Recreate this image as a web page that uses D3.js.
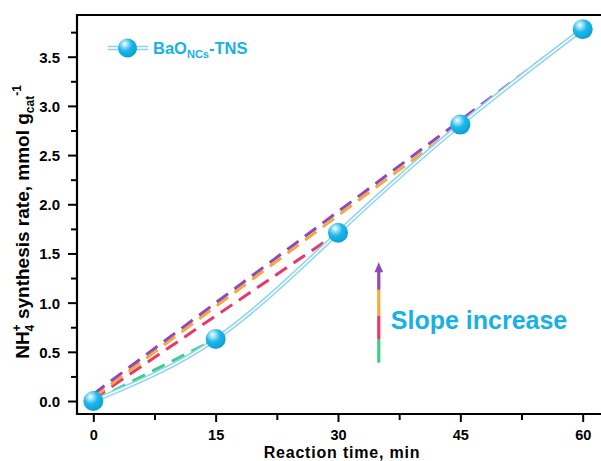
<!DOCTYPE html>
<html>
<head>
<meta charset="utf-8">
<script src="https://cdn.jsdelivr.net/npm/d3@7"></script>
<style>
  html, body { margin: 0; padding: 0; background: #fff; }
  svg { display: block; }
  text { font-family: Arial, "Liberation Sans", sans-serif; font-weight: bold; }
</style>
</head>
<body>
<svg id="chart" width="601" height="461"></svg>
<script>
// ---- data ----
const times = [0, 15, 30, 45, 60];
const rates = [0.0, 0.63, 1.71, 2.81, 3.78];
const seriesName = ["BaO", "NCs", "-TNS"];
const xTicks = [0, 15, 30, 45, 60];
const xMinorTicks = [7.5, 22.5, 37.5, 52.5];
const yTicks = [0.0, 0.5, 1.0, 1.5, 2.0, 2.5, 3.0, 3.5];
const yMinorTicks = [0.25, 0.75, 1.25, 1.75, 2.25, 2.75, 3.25, 3.75];
// slope lines: start value at t=0, end at point index
const slopeNames = ["green", "red", "orange", "purple"];
const slopeStart = [0.0, 0.02, 0.035, 0.07];
const slopeEndIndex = [1, 2, 3, 4];
const slopeColors = ["#3ccf82", "#e8386a", "#f6a83a", "#9148b8"];
// arrow annotation (data units)
const arrowX = 35;
const arrowBreaks = [0.39, 0.63, 0.865, 1.13, 1.41];
const annotation = "Slope increase";

// ---- layout ----
const svg = d3.select("#chart");
const x = d3.scaleLinear().domain([-2, 62]).range([77, 599]);
const y = d3.scaleLinear().domain([-0.132, 3.924]).range([414, 15]);
const cyan = "#17b1e6";

const defs = svg.append("defs");
const grad = defs.append("radialGradient").attr("id", "ball")
  .attr("cx", "38%").attr("cy", "32%").attr("r", "70%").attr("fx", "35%").attr("fy", "28%");
grad.append("stop").attr("offset", "0%").attr("stop-color", "#ffffff");
grad.append("stop").attr("offset", "18%").attr("stop-color", "#a8e6fa");
grad.append("stop").attr("offset", "50%").attr("stop-color", "#1fb8ea");
grad.append("stop").attr("offset", "100%").attr("stop-color", "#0a9fd6");

// ---- slope dashed lines ----
slopeNames.forEach((n, i) => {
  const pts = [[0, slopeStart[i]], [times[slopeEndIndex[i]], rates[slopeEndIndex[i]]]];
  svg.append("path")
    .attr("d", d3.line().x(d => x(d[0])).y(d => y(d[1]))(pts))
    .attr("fill", "none").attr("stroke", slopeColors[i])
    .attr("stroke-width", 3).attr("stroke-dasharray", "14,8");
});

// ---- main curve (double line) ----
const data = times.map((t, i) => [t, rates[i]]);
const curve = d3.line().x(d => x(d[0])).y(d => y(d[1])).curve(d3.curveNatural);
svg.append("path").attr("d", curve(data)).attr("fill", "none")
  .attr("stroke", "#8ad4f1").attr("stroke-width", 4.5);
svg.append("path").attr("d", curve(data)).attr("fill", "none")
  .attr("stroke", "#ffffff").attr("stroke-width", 1.6);

svg.selectAll("circle.pt").data(data).enter().append("circle")
  .attr("class", "pt")
  .attr("cx", d => x(d[0])).attr("cy", d => y(d[1])).attr("r", 10)
  .attr("fill", "url(#ball)");

// ---- axes ----
const gx = svg.append("g").attr("transform", "translate(0,414)")
  .call(d3.axisBottom(x).tickValues(xTicks).tickSize(8).tickFormat(d3.format("d")));
const gxm = svg.append("g").attr("transform", "translate(0,414)")
  .call(d3.axisBottom(x).tickValues(xMinorTicks).tickSize(6).tickFormat(""));
const gy = svg.append("g").attr("transform", "translate(77,0)")
  .call(d3.axisLeft(y).tickValues(yTicks).tickSize(9).tickFormat(d3.format(".1f")));
const gym = svg.append("g").attr("transform", "translate(77,0)")
  .call(d3.axisLeft(y).tickValues(yMinorTicks).tickSize(6).tickFormat(""));
[gx, gxm, gy, gym].forEach(g => {
  g.select(".domain").remove();
  g.selectAll("line").attr("stroke", "#000").attr("stroke-width", 2);
});
gx.selectAll("text").attr("y", 25.5).attr("dy", null)
  .attr("font-size", 14.5).attr("fill", "#000");
gy.selectAll("text").attr("x", -17).attr("dy", "0.36em")
  .attr("font-size", 15).attr("fill", "#000");

// frame (left, bottom, top)
svg.append("path")
  .attr("d", `M601,${y.range()[1]}H${x.range()[0]}V${y.range()[0]}H601`)
  .attr("fill", "none").attr("stroke", "#000").attr("stroke-width", 2.2);

// ---- axis titles ----
svg.append("text").attr("x", 342).attr("y", 457.5).attr("text-anchor", "middle")
  .attr("font-size", 16).attr("letter-spacing", 0.8).attr("fill", "#000").text("Reaction time, min");

const yl = svg.append("text").attr("transform", "translate(28.5,222) rotate(-90)")
  .attr("text-anchor", "middle").attr("font-size", 19).attr("fill", "#000");
yl.append("tspan").text("NH");
yl.append("tspan").attr("font-size", 12).attr("dy", 5).text("4");
yl.append("tspan").attr("font-size", 12).attr("dx", -6.7).attr("dy", -13).text("+");
yl.append("tspan").attr("dy", 8).text(" synthesis rate, mmol g");
yl.append("tspan").attr("font-size", 12).attr("dy", 5).text("cat");
yl.append("tspan").attr("font-size", 12).attr("dy", -13).text("-1");

// ---- legend ----
svg.append("line").attr("x1", 108).attr("x2", 148).attr("y1", 48).attr("y2", 48)
  .attr("stroke", "#8ad4f1").attr("stroke-width", 4.5);
svg.append("line").attr("x1", 108).attr("x2", 148).attr("y1", 48).attr("y2", 48)
  .attr("stroke", "#fff").attr("stroke-width", 1.6);
svg.append("circle").attr("cx", 127.5).attr("cy", 48).attr("r", 9.5).attr("fill", "url(#ball)");
const lt = svg.append("text").attr("x", 153).attr("y", 54).attr("font-size", 16.5).attr("fill", cyan);
lt.append("tspan").text(seriesName[0]);
lt.append("tspan").attr("font-size", 11).attr("dy", 4).text(seriesName[1]);
lt.append("tspan").attr("dy", -4).text(seriesName[2]);

// ---- slope arrow ----
const segColors = ["#3ccf82", "#e8386a", "#f6a83a", "#9148b8"];
for (let i = 0; i < 4; i++) {
  const top = i === 3 ? y(arrowBreaks[4]) + 8 : y(arrowBreaks[i + 1]);
  svg.append("line").attr("x1", x(arrowX)).attr("x2", x(arrowX))
    .attr("y1", y(arrowBreaks[i])).attr("y2", top)
    .attr("stroke", segColors[i]).attr("stroke-width", 3.2);
}
const tipX = x(arrowX), tipY = y(arrowBreaks[4]);
svg.append("path")
  .attr("d", `M${tipX},${tipY}L${tipX - 4.3},${tipY + 10}L${tipX + 4.3},${tipY + 10}Z`)
  .attr("fill", "#9148b8");
svg.append("text").attr("x", x(arrowX) + 12).attr("y", y(0.73))
  .attr("font-size", 25).attr("fill", cyan).text(annotation);
</script>
</body>
</html>
